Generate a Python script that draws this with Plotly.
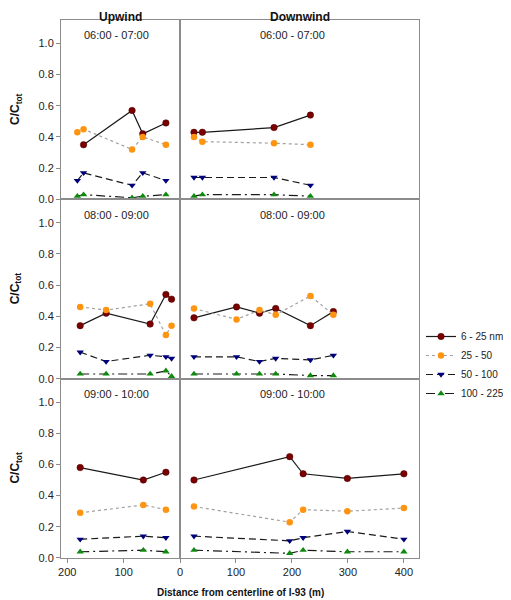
import plotly.graph_objects as go
from plotly.subplots import make_subplots

# ---------------- data ----------------
SERIES_NAMES = ["6 - 25 nm", "25 - 50", "50 - 100", "100 - 225"]
PERIODS = ["06:00 - 07:00", "08:00 - 09:00", "09:00 - 10:00"]
COLUMN_TITLES = ["Upwind", "Downwind"]
X_TITLE = "Distance from centerline of I-93 (m)"
Y_TITLE = "C/C<sub>tot</sub>"

# Upwind 06:00-07:00
UP1_X = [182, 171, 85, 66, 25]
UP1_A = [None, 0.35, 0.57, 0.42, 0.49]
UP1_B = [0.43, 0.45, 0.32, 0.40, 0.35]
UP1_C = [0.12, 0.17, 0.09, 0.17, 0.12]
UP1_D = [0.02, 0.03, 0.01, 0.02, 0.03]
# Downwind 06:00-07:00
DN1_X = [25, 40, 168, 233]
DN1_A = [0.43, 0.43, 0.46, 0.54]
DN1_B = [0.40, 0.37, 0.36, 0.35]
DN1_C = [0.14, 0.14, 0.14, 0.09]
DN1_D = [0.02, 0.03, 0.03, 0.02]
# Upwind 08:00-09:00
UP2_X = [177, 131, 53, 25, 15]
UP2_A = [0.34, 0.42, 0.35, 0.54, 0.51]
UP2_B = [0.46, 0.44, 0.48, 0.28, 0.34]
UP2_C = [0.17, 0.11, 0.15, 0.14, 0.13]
UP2_D = [0.03, 0.03, 0.03, 0.05, 0.015]
# Downwind 08:00-09:00
DN2_X = [25, 101, 142, 171, 233, 274]
DN2_A = [0.39, 0.46, 0.42, 0.45, 0.34, 0.43]
DN2_B = [0.45, 0.38, 0.44, 0.41, 0.53, 0.41]
DN2_C = [0.14, 0.14, 0.11, 0.13, 0.12, 0.15]
DN2_D = [0.03, 0.03, 0.03, 0.03, 0.02, 0.02]
# Upwind 09:00-10:00
UP3_X = [177, 65, 25]
UP3_A = [0.58, 0.50, 0.55]
UP3_B = [0.29, 0.34, 0.31]
UP3_C = [0.12, 0.14, 0.13]
UP3_D = [0.04, 0.05, 0.04]
# Downwind 09:00-10:00
DN3_X = [25, 196, 220, 299, 400]
DN3_A = [0.50, 0.65, 0.54, 0.51, 0.54]
DN3_B = [0.33, 0.23, 0.31, 0.30, 0.32]
DN3_C = [0.14, 0.11, 0.13, 0.17, 0.12]
DN3_D = [0.05, 0.03, 0.05, 0.04, 0.04]

Y_TICKS = [0.0, 0.2, 0.4, 0.6, 0.8, 1.0]
UP_X_TICKS = [200, 100]
DN_X_TICKS = [0, 100, 200, 300, 400]

# ---------------- styling ----------------
FONT = "Arial, Liberation Sans, sans-serif"
STYLES = [
    dict(line=dict(color="#1a1a1a", width=1.2, dash="solid"),
         marker=dict(symbol="circle", size=6.5, color="#7a0000", line=dict(color="#4a0000", width=0.5))),
    dict(line=dict(color="#a0a0a0", width=1.2, dash="dot"),
         marker=dict(symbol="circle", size=6.5, color="#ff9410", line=dict(width=0))),
    dict(line=dict(color="#1a1a1a", width=1.2, dash="7px,4px"),
         marker=dict(symbol="triangle-down", size=6.5, color="#00007a", line=dict(width=0))),
    dict(line=dict(color="#1a1a1a", width=1.2, dash="9px,4px,2px,4px"),
         marker=dict(symbol="triangle-up", size=6.5, color="#0f8a0f", line=dict(width=0))),
]

panels = [
    (1, 1, UP1_X, [UP1_A, UP1_B, UP1_C, UP1_D]),
    (1, 2, DN1_X, [DN1_A, DN1_B, DN1_C, DN1_D]),
    (2, 1, UP2_X, [UP2_A, UP2_B, UP2_C, UP2_D]),
    (2, 2, DN2_X, [DN2_A, DN2_B, DN2_C, DN2_D]),
    (3, 1, UP3_X, [UP3_A, UP3_B, UP3_C, UP3_D]),
    (3, 2, DN3_X, [DN3_A, DN3_B, DN3_C, DN3_D]),
]

fig = make_subplots(rows=3, cols=2, column_widths=[119, 239],
                    horizontal_spacing=0, vertical_spacing=0)

first = True
for row, col, xs, series in panels:
    for i, ys in enumerate(series):
        fig.add_trace(go.Scatter(
            x=xs, y=ys, mode="lines+markers", name=SERIES_NAMES[i],
            legendgroup=SERIES_NAMES[i], showlegend=first,
            line=STYLES[i]["line"], marker=STYLES[i]["marker"],
            connectgaps=False,
        ), row=row, col=col)
    first = False

AX_COLOR = "#8c8c8c"
for row in range(1, 4):
    for col in range(1, 3):
        bottom = row == 3
        if col == 1:
            fig.update_xaxes(range=[211, 0], tickvals=UP_X_TICKS if bottom else [],
                             row=row, col=col)
        else:
            fig.update_xaxes(range=[0, 427], tickvals=DN_X_TICKS if bottom else [],
                             row=row, col=col)
        fig.update_xaxes(showline=True, mirror=True, linecolor=AX_COLOR, linewidth=1,
                         showgrid=False, zeroline=False,
                         ticks="outside" if bottom else "", ticklen=4, tickcolor=AX_COLOR,
                         showticklabels=bottom,
                         tickfont=dict(family=FONT, size=11, color="#222"),
                         row=row, col=col)
        fig.update_yaxes(range=[0, 1.15], showline=True, mirror=True, linecolor=AX_COLOR,
                         linewidth=1, showgrid=False, zeroline=False,
                         tickvals=Y_TICKS if col == 1 else [],
                         ticktext=[f"{v:.1f}" for v in Y_TICKS] if col == 1 else [],
                         ticks="outside" if col == 1 else "", ticklen=4, tickcolor=AX_COLOR,
                         showticklabels=(col == 1),
                         tickfont=dict(family=FONT, size=11, color="#222"),
                         row=row, col=col)

annotations = []
# period labels
for row, col, xs, series in panels:
    idx = (row - 1) * 2 + col
    suffix = "" if idx == 1 else str(idx)
    annotations.append(dict(
        text=PERIODS[row - 1], xref=f"x{suffix} domain", yref=f"y{suffix} domain",
        x=0.47, y=0.915, xanchor="center", yanchor="middle", showarrow=False,
        font=dict(family=FONT, size=11, color="#222")))
# column titles (kept just inside the top of the figure)
for j, cx in enumerate([59.5 / 358, (119 + 119.5) / 358]):
    annotations.append(dict(text=f"<b>{COLUMN_TITLES[j]}</b>", xref="paper", yref="paper",
                            x=cx, y=1 + 12 / 538, xanchor="center", yanchor="top",
                            showarrow=False, font=dict(family=FONT, size=12, color="#111")))
# y titles
for row in range(1, 4):
    ycenter_px = 20 + (row - 1) * 179.3 + 89
    annotations.append(dict(text=f"<b>{Y_TITLE}</b>", xref="paper", yref="paper",
                            x=(16 - 61) / 358, y=(558 - ycenter_px) / 538,
                            xanchor="center", yanchor="middle", textangle=-90,
                            showarrow=False, font=dict(family=FONT, size=12, color="#111")))
# x title
annotations.append(dict(text=f"<b>{X_TITLE}</b>", xref="paper", yref="paper",
                        x=0.5, y=-(592 - 558) / 538, xanchor="center", yanchor="middle",
                        showarrow=False, font=dict(family=FONT, size=10, color="#111")))

# the page body adds an 8px offset: shrink the figure so the plot area lands at 61..419 x 20..558
fig.update_layout(
    width=503, height=592,
    margin=dict(l=53, r=92, t=12, b=42, autoexpand=False),
    paper_bgcolor="white", plot_bgcolor="white",
    font=dict(family=FONT, size=11, color="#222"),
    annotations=annotations,
    legend=dict(x=(509 - 61) / 358, y=(558 - 322) / 538, xanchor="right", yanchor="top",
                font=dict(family=FONT, size=10, color="#222"),
                bgcolor="rgba(0,0,0,0)", tracegroupgap=0, itemwidth=30),
)

fig.write_html("out.html")
